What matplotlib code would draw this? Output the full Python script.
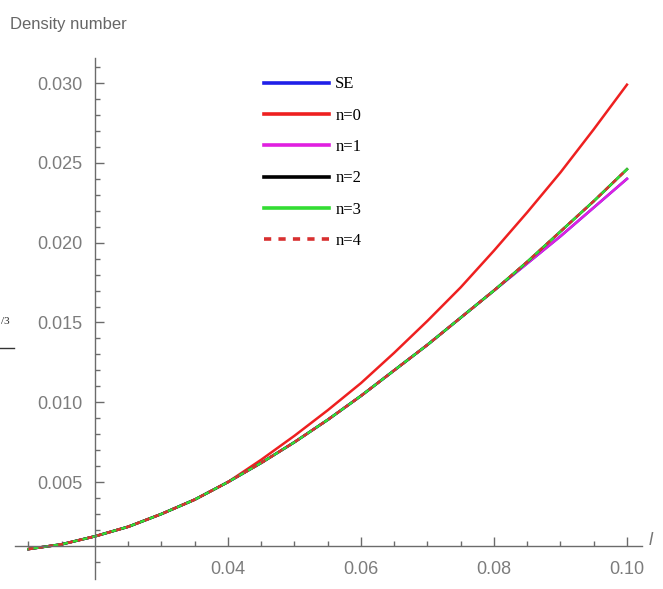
import matplotlib
matplotlib.use("Agg")
import matplotlib.pyplot as plt
from matplotlib.lines import Line2D
from matplotlib.ticker import FixedLocator

# values
l_vals = [0.010, 0.015, 0.020, 0.025, 0.030, 0.035, 0.040, 0.045, 0.050, 0.055,
          0.060, 0.065, 0.070, 0.075, 0.080, 0.085, 0.090, 0.095, 0.100]
se = [0.0008, 0.0011, 0.0016, 0.0022, 0.0030, 0.0039, 0.0050, 0.0062, 0.0075, 0.0089,
      0.0104, 0.0120, 0.0136, 0.0153, 0.0170, 0.0187, 0.0204, 0.0222, 0.0240]
n0 = [0.0008, 0.0011, 0.0016, 0.0022, 0.0030, 0.0039, 0.0050, 0.0064, 0.0079, 0.0095,
      0.0112, 0.0131, 0.0151, 0.0172, 0.0195, 0.0219, 0.0244, 0.0271, 0.0299]
n1 = [0.0008, 0.0011, 0.0016, 0.0022, 0.0030, 0.0039, 0.0050, 0.0062, 0.0075, 0.0089,
      0.0104, 0.0120, 0.0136, 0.0153, 0.0170, 0.0187, 0.0204, 0.0222, 0.0240]
n2 = [0.0008, 0.0011, 0.0016, 0.0022, 0.0030, 0.0039, 0.0050, 0.0062, 0.0075, 0.0089,
      0.0104, 0.0120, 0.0136, 0.0153, 0.0170, 0.0188, 0.0207, 0.0226, 0.0246]
n3 = [0.0008, 0.0011, 0.0016, 0.0022, 0.0030, 0.0039, 0.0050, 0.0062, 0.0075, 0.0089,
      0.0104, 0.0120, 0.0136, 0.0153, 0.0170, 0.0188, 0.0207, 0.0226, 0.0246]
n4 = [0.0008, 0.0011, 0.0016, 0.0022, 0.0030, 0.0039, 0.0050, 0.0062, 0.0075, 0.0089,
      0.0104, 0.0120, 0.0136, 0.0153, 0.0170, 0.0188, 0.0207, 0.0226, 0.0246]

x_major = [0.04, 0.06, 0.08, 0.10]
y_major = [0.005, 0.010, 0.015, 0.020, 0.025, 0.030]
x_labels = ["0.04", "0.06", "0.08", "0.10"]
y_labels = ["0.005", "0.010", "0.015", "0.020", "0.025", "0.030"]

gray = "#6b6b6b"
label_gray = "#7c7c7c"

fig = plt.figure(figsize=(6.63, 5.89), dpi=100)
ax = fig.add_axes([0.0229, 0.0163, 0.9448, 0.886])

lw = 1.8
ax.plot(l_vals, se, color="#2020e8", lw=lw, label="SE")
ax.plot(l_vals, n0, color="#ee2020", lw=lw, label="n=0")
ax.plot(l_vals, n1, color="#e020e0", lw=lw, label="n=1")
ax.plot(l_vals, n2, color="black", lw=lw, label="n=2")
ax.plot(l_vals, n3, color="#33dd33", lw=lw, label="n=3")
ax.plot(l_vals, n4, color="#d83030", lw=lw, ls=(0, (2, 2)), label="n=4")

ax.set_xlim(0.008, 0.1022)
ax.set_ylim(-0.0011, 0.0316)

# Mathematica style crossing axes
for s in ["top", "right"]:
    ax.spines[s].set_visible(False)
ax.spines["left"].set_position(("data", 0.02))
ax.spines["bottom"].set_position(("data", 0.001))
for s in ["left", "bottom"]:
    ax.spines[s].set_color(gray)
    ax.spines[s].set_linewidth(1.0)

ax.xaxis.set_major_locator(FixedLocator(x_major))
ax.yaxis.set_major_locator(FixedLocator(y_major))
ax.set_xticklabels(x_labels)
ax.set_yticklabels(y_labels)
x_minor = [0.01 + 0.005 * i for i in range(19)]
x_minor = [v for v in x_minor if all(abs(v - m) > 1e-6 for m in x_major + [0.02])]
y_minor = [0.001 * i for i in range(32)]
y_minor = [v for v in y_minor if all(abs(v - m) > 1e-7 for m in y_major + [0.001])]
ax.xaxis.set_minor_locator(FixedLocator(x_minor))
ax.yaxis.set_minor_locator(FixedLocator(y_minor))

ax.tick_params(axis="both", which="both", direction="in", color=gray, width=1.0)
ax.tick_params(axis="both", which="major", length=6.5, labelsize=13,
               labelcolor=label_gray)
ax.tick_params(axis="both", which="minor", length=3.5)
ax.tick_params(axis="x", which="major", pad=11)
ax.tick_params(axis="y", which="major", pad=9)
for t in ax.get_xticklabels() + ax.get_yticklabels():
    t.set_family("Liberation Sans")

leg = ax.legend(loc="upper left", bbox_to_anchor=(0.385, 0.8845),
                bbox_transform=fig.transFigure, frameon=False, borderpad=0,
                handlelength=3.9, handletextpad=0.4, labelspacing=0.92,
                prop={"family": "Liberation Serif", "size": 12})
for line in leg.get_lines():
    line.set_linewidth(2.6)

fig.text(0.015, 0.958, "Density number", color="#666666", fontsize=12,
         family="Liberation Sans", va="center", ha="left")
fig.text(0.981, 0.083, "l", color="#777777", fontsize=13, style="italic",
         family="Liberation Sans", va="center", ha="center")
# cut-off vertical axis label fragment on the left edge
fig.text(0.002, 0.455, "/3", color="#222222", fontsize=8,
         family="Liberation Serif", va="center", ha="left")
fig.add_artist(Line2D([0.0, 0.021], [0.409, 0.409], transform=fig.transFigure,
                      color="#333333", lw=1.0))

fig.savefig("out.png", dpi=100)
